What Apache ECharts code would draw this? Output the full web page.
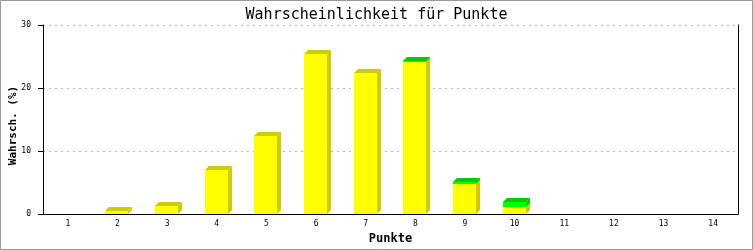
<!DOCTYPE html>
<html>
<head>
<meta charset="utf-8">
<script src="https://cdn.jsdelivr.net/npm/echarts@6/dist/echarts.min.js"></script>
<style>
html,body{margin:0;padding:0;background:#fff;}
#c{width:753px;height:250px;}
</style>
</head>
<body>
<div id="c"></div>
<script>
var categories = ['1','2','3','4','5','6','7','8','9','10','11','12','13','14'];
var yellowValues = [0, 0.5, 1.2, 7.0, 12.4, 25.4, 22.4, 24.1, 4.8, 1.1, 0, 0, 0, 0];
var greenValues  = [0, 0, 0, 0, 0, 0, 0, 0.25, 0.3, 0.8, 0, 0, 0, 0];
var yTicks = [0, 10, 20, 30];

var yellowData = yellowValues.map(function (v, i) { return [i, 0, v]; });
var greenData = greenValues.map(function (v, i) { return [i, yellowValues[i], yellowValues[i] + v]; });

function render3D(front, dark) {
  return function (params, api) {
    var x = api.value(0), base = api.value(1), top = api.value(2);
    if (top - base <= 0) return;
    var p0 = api.coord([x, base]);
    var p1 = api.coord([x, top]);
    var bw = 23;
    var x1 = Math.round(p0[0] - bw / 2 - 0.5), x2 = x1 + bw;
    var yb = Math.round(p0[1]), yt = Math.round(p1[1]);
    var d = 4;
    return {
      type: 'group',
      children: [
        {type: 'polygon', shape: {points: [[x2, yb], [x2, yt], [x2 + d, yt - d], [x2 + d, yb - d]]}, style: {fill: dark}},
        {type: 'polygon', shape: {points: [[x1, yt], [x1 + d, yt - d], [x2 + d, yt - d], [x2, yt]]}, style: {fill: dark}},
        {type: 'rect', shape: {x: x1, y: yt, width: bw, height: yb - yt}, style: {fill: front}}
      ]
    };
  };
}

var chart = echarts.init(document.getElementById('c'), null, {renderer: 'canvas'});
chart.setOption({
  animation: false,
  backgroundColor: '#fff',
  title: {
    text: 'Wahrscheinlichkeit für Punkte',
    left: 'center',
    top: 3,
    textStyle: {fontFamily: 'DejaVu Sans Mono', fontSize: 15, fontWeight: 'normal', color: '#000'}
  },
  graphic: [{
    type: 'rect', silent: true, z: 100,
    shape: {x: 0.5, y: 0.5, width: 752, height: 249},
    style: {fill: 'none', stroke: '#999', lineWidth: 1}
  }],
  grid: {left: 43, right: 15, top: 25, bottom: 36, containLabel: false, outerBoundsMode: 'none'},
  xAxis: {
    type: 'category',
    data: categories,
    boundaryGap: true,
    name: 'Punkte',
    nameLocation: 'middle',
    nameGap: 19,
    nameMoveOverlap: false,
    nameTextStyle: {fontFamily: 'DejaVu Sans Mono', fontSize: 12, fontWeight: 'bold', color: '#000'},
    axisLine: {lineStyle: {color: '#000', width: 1}},
    axisTick: {show: false},
    axisLabel: {fontFamily: 'DejaVu Sans Mono', fontSize: 8, color: '#000', margin: 6, interval: 0},
    splitLine: {show: false},
    z: 10
  },
  yAxis: [{
    type: 'value',
    min: 0, max: 30, interval: 10,
    name: 'Wahrsch. (%)',
    nameLocation: 'middle',
    nameGap: 24,
    nameMoveOverlap: false,
    nameTextStyle: {fontFamily: 'DejaVu Sans Mono', fontSize: 11, fontWeight: 'bold', color: '#000', padding: [0, 12, 0, 0]},
    axisLine: {show: true, lineStyle: {color: '#000', width: 1}},
    axisTick: {show: true, length: 5, lineStyle: {color: '#000'}},
    axisLabel: {fontFamily: 'DejaVu Sans Mono', fontSize: 8, color: '#000', margin: 12,
      formatter: function (v) { return yTicks.indexOf(v) >= 0 ? String(v) : ''; }},
    splitLine: {show: true, lineStyle: {color: '#bbb', type: [2, 4], width: 1}}
  }, {
    type: 'value',
    min: 0, max: 30, interval: 10,
    position: 'right',
    axisLine: {show: true, lineStyle: {color: '#000', width: 1}},
    axisTick: {show: false},
    axisLabel: {show: false},
    splitLine: {show: false}
  }],
  series: [{
    type: 'custom',
    name: 'gelb',
    renderItem: render3D('#ffff00', '#cccc00'),
    encode: {x: 0, y: [1, 2]},
    data: yellowData,
    z: 2
  }, {
    type: 'custom',
    name: 'grün',
    renderItem: render3D('#00ff00', '#00cc00'),
    encode: {x: 0, y: [1, 2]},
    data: greenData,
    z: 3
  }]
});
</script>
</body>
</html>
